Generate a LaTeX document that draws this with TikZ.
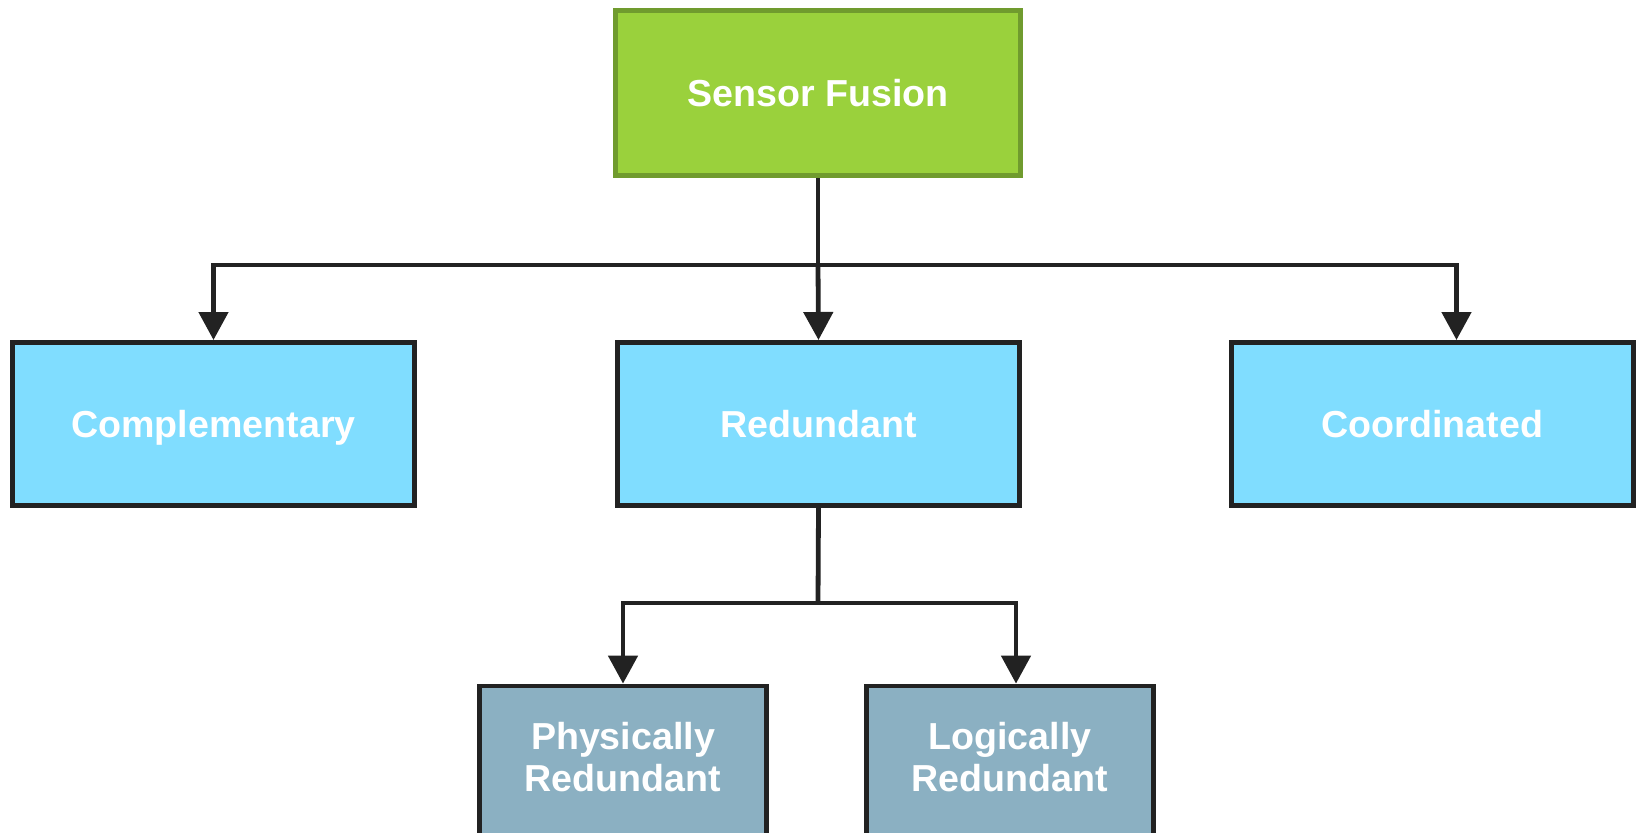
\documentclass[tikz,border=0pt]{standalone}
\usepackage{fontspec}
\setmainfont{Liberation Sans}
\usetikzlibrary{arrows.meta}

\definecolor{linegray}{HTML}{222222}
\definecolor{fusiongreen}{HTML}{9AD13C}
\definecolor{fusionedge}{HTML}{709B2E}
\definecolor{typeblue}{HTML}{80DDFF}
\definecolor{subslate}{HTML}{8BB0C2}

\tikzset{
  box/.style={draw=linegray, line width=2.4pt, text=white, inner sep=0pt,
    align=center, font=\bfseries\fontsize{18.8}{21}\selectfont},
  link/.style={draw=linegray, line width=2.4pt},
  arr/.style={link, -{Triangle[width=14.5pt,length=14pt]}},
}

\begin{document}
\begin{tikzpicture}[x=0.5pt,y=-0.5pt]
\clip (0,0) rectangle (1640,832);

\node[box, fill=fusiongreen, draw=fusionedge, text depth=0pt, minimum width=202.6pt, minimum height=82.6pt]
  (fusion) at (818,93) {Sensor Fusion};

\foreach \name/\txt/\x in {compl/Complementary/213.5, red/Redundant/818.5, coord/Coordinated/1432.5}{
  \node[box, fill=typeblue, text depth=0pt, minimum width=201pt, minimum height=81.6pt] (\name) at (\x,424) {\txt};
}

% bottom row runs off the page edge
\node[box, fill=subslate, text depth=5pt, minimum width=143.6pt, minimum height=76pt] (phys) at (623,762) {Physically\\Redundant};
\node[box, fill=subslate, text depth=5pt, minimum width=143.6pt, minimum height=76pt] (logic) at (1010,762) {Logically\\Redundant};

\coordinate (bus1) at (818,265);
\coordinate (bus2) at (818,603);

\draw[link] (fusion.south) -- (bus1);
\draw[arr] (bus1) -- (red.north);
\draw[arr] (bus1) -| (compl.north);
\draw[arr] (bus1) -| ([xshift=12pt]coord.north);

\draw[link] (red.south) -- (bus2);
\draw[arr] (bus2) -| (phys.north);
\draw[arr] (bus2) -| ([xshift=3pt]logic.north);

\end{tikzpicture}
\end{document}
